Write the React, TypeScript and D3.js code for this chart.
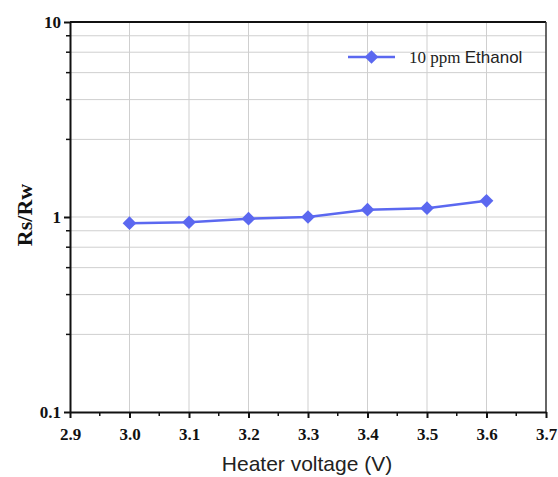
import React, { useEffect, useRef } from 'react';
import * as d3 from 'd3';

// Heater voltage (V) and sensor response Rs/Rw
const voltages = [3.0, 3.1, 3.2, 3.3, 3.4, 3.5, 3.6];
const response = [0.93, 0.94, 0.98, 1.0, 1.09, 1.11, 1.21];

const xTicks = [2.9, 3.0, 3.1, 3.2, 3.3, 3.4, 3.5, 3.6, 3.7];
const xMinorTicks = [2.95, 3.05, 3.15, 3.25, 3.35, 3.45, 3.55, 3.65];
const yTicks = [0.1, 1, 10];
const yTickLabels = ['0.1', '1', '10'];
// Origin-style linear minor ticks inside each decade
const yMinorTicks = [0.25, 0.4, 0.55, 0.7, 0.85, 2.5, 4, 5.5, 7, 8.5];

const seriesName = '10 ppm';
const seriesGas = 'Ethanol';

const serif = '"Liberation Serif", "Times New Roman", serif';
const sans = '"Liberation Sans", Arial, sans-serif';

const App = () => {
  const svgRef = useRef<SVGSVGElement>(null);

  useEffect(() => {
    const width = 558;
    const height = 477;
    const svg = d3.select(svgRef.current)
      .attr('width', width)
      .attr('height', height);
    svg.selectAll('*').remove();

    const left = 70, right = 546, top = 22, bottom = 412;
    const color = '#5b68f0';

    const x = d3.scaleLinear().domain([2.9, 3.7]).range([left, right]);
    const y = d3.scaleLog().domain([0.1, 10]).range([bottom, top]);

    // grid lines
    const grid = svg.append('g').attr('stroke', '#cfcfcf').attr('stroke-width', 1);
    voltages.forEach(v => {
      grid.append('line')
        .attr('x1', x(v)).attr('x2', x(v))
        .attr('y1', top).attr('y2', bottom);
    });
    [...yMinorTicks, 1].forEach(v => {
      grid.append('line')
        .attr('x1', left).attr('x2', right)
        .attr('y1', y(v)).attr('y2', y(v));
    });

    // frame (top and right)
    svg.append('line')
      .attr('x1', left).attr('x2', right).attr('y1', top).attr('y2', top)
      .attr('stroke', '#111').attr('stroke-width', 2);
    svg.append('line')
      .attr('x1', right).attr('x2', right).attr('y1', top).attr('y2', bottom)
      .attr('stroke', '#333').attr('stroke-width', 1.5);

    // x axis
    const xAxis = svg.append('g').attr('transform', `translate(0, ${bottom})`);
    xAxis.call(
      d3.axisBottom(x).tickValues(xTicks).tickFormat(d3.format('.1f')).tickSize(6).tickSizeOuter(0)
    );
    xAxis.attr('font-size', 17).attr('font-family', serif);
    xAxis.select('.domain').attr('stroke', '#111').attr('stroke-width', 2);
    xAxis.selectAll('.tick line').attr('stroke', '#111').attr('stroke-width', 2);
    xAxis.selectAll('.tick text')
      .attr('dy', 0).attr('y', 28)
      .attr('font-weight', 'bold')
      .attr('fill', '#111');
    xMinorTicks.forEach(v => {
      xAxis.append('line')
        .attr('x1', x(v)).attr('x2', x(v)).attr('y1', 0).attr('y2', 4)
        .attr('stroke', '#111').attr('stroke-width', 1.5);
    });

    // y axis
    const yAxis = svg.append('g').attr('transform', `translate(${left}, 0)`);
    yAxis.call(
      d3.axisLeft(y).tickValues(yTicks).tickFormat((d, i) => yTickLabels[i]).tickSize(6).tickSizeOuter(0)
    );
    yAxis.attr('font-size', 17).attr('font-family', serif);
    yAxis.select('.domain').attr('stroke', '#111').attr('stroke-width', 2);
    yAxis.selectAll('.tick line').attr('stroke', '#111').attr('stroke-width', 2);
    yAxis.selectAll('.tick text')
      .attr('x', -9)
      .attr('font-weight', 'bold')
      .attr('fill', '#111');
    yMinorTicks.forEach(v => {
      yAxis.append('line')
        .attr('x1', 0).attr('x2', -4).attr('y1', y(v)).attr('y2', y(v))
        .attr('stroke', '#111').attr('stroke-width', 1.5);
    });

    // series
    const data = voltages.map((v, i) => ({ v, r: response[i] }));
    const line = d3.line<{ v: number; r: number }>()
      .x(d => x(d.v))
      .y(d => y(d.r));
    svg.append('path')
      .datum(data)
      .attr('d', line)
      .attr('fill', 'none')
      .attr('stroke', color)
      .attr('stroke-width', 2.5);

    const diamond = d3.symbol().type(d3.symbolDiamond2).size(120);
    svg.append('g').selectAll('path')
      .data(data)
      .join('path')
      .attr('d', diamond)
      .attr('transform', d => `translate(${x(d.v)}, ${y(d.r)})`)
      .attr('fill', color);

    // legend
    const lg = svg.append('g').attr('transform', 'translate(348, 57)');
    lg.append('line')
      .attr('x1', 0).attr('x2', 47).attr('y1', 0).attr('y2', 0)
      .attr('stroke', color).attr('stroke-width', 2.5);
    lg.append('path')
      .attr('d', diamond)
      .attr('transform', 'translate(23.5, 0)')
      .attr('fill', color);
    const lt = lg.append('text')
      .attr('x', 61).attr('y', 6)
      .attr('fill', '#222')
      .attr('font-size', 17);
    lt.append('tspan')
      .attr('font-family', serif)
      .text(seriesName + ' ');
    lt.append('tspan')
      .attr('font-family', sans)
      .text(seriesGas);

    // axis titles
    svg.append('text')
      .attr('x', 307).attr('y', 471)
      .attr('text-anchor', 'middle')
      .attr('font-family', sans)
      .attr('font-size', 21)
      .attr('fill', '#222')
      .text('Heater voltage (V)');
    svg.append('text')
      .attr('transform', 'translate(32, 215) rotate(-90)')
      .attr('text-anchor', 'middle')
      .attr('font-family', serif)
      .attr('font-weight', 'bold')
      .attr('font-size', 22)
      .attr('fill', '#111')
      .text('Rs/Rw');
  }, []);

  return (
    <svg ref={svgRef} style={{ position: 'absolute', left: 0, top: 0, background: '#fff' }}></svg>
  );
};

export default App;
